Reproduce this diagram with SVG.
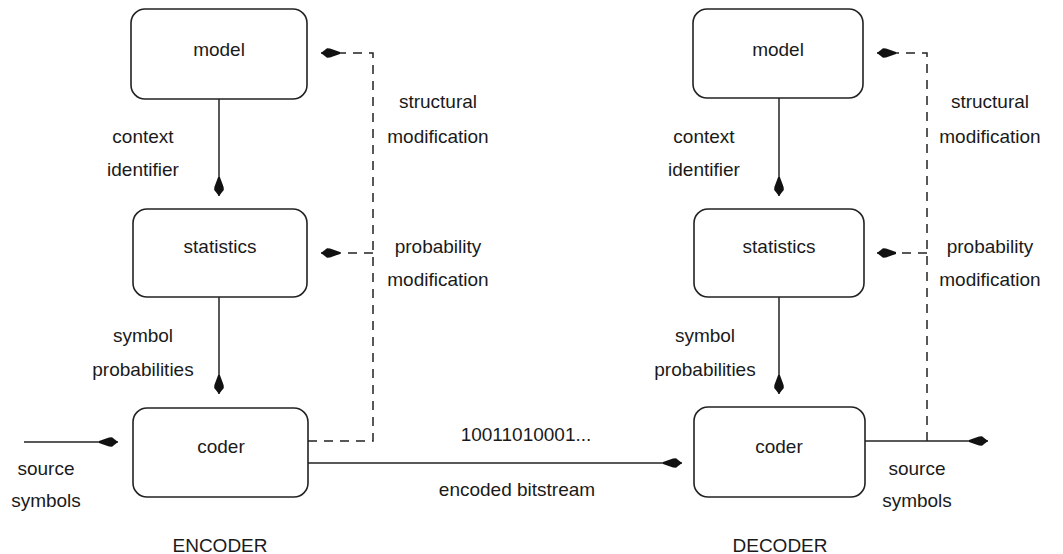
<svg xmlns="http://www.w3.org/2000/svg" width="1063" height="554" viewBox="0 0 1063 554">
<style>
.box{fill:#fff;stroke:#222;stroke-width:1.6}
.ln{fill:none;stroke:#222;stroke-width:1.5}
.ds{fill:none;stroke:#222;stroke-width:1.5;stroke-dasharray:9 7}
text{font-family:"Liberation Sans",Arial,sans-serif;font-size:19px;fill:#1a1a1a;text-anchor:middle}
</style>
<defs>
<marker id="ah" viewBox="-21 -6 22 12" refX="0" refY="0" markerWidth="22" markerHeight="12" markerUnits="userSpaceOnUse" orient="auto">
<path d="M0,0 L-6,-4.8 L-9,-4.6 L-19,-0.9 V0.9 L-9,4.6 L-6,4.8 Z" fill="#111"/>
</marker>
</defs>
<rect width="1063" height="554" fill="#fff"/>
<g id="connectors">
<line class="ln" x1="219" y1="99" x2="219" y2="196" marker-end="url(#ah)"/>
<line class="ln" x1="219" y1="297" x2="219" y2="394" marker-end="url(#ah)"/>
<line class="ln" x1="24" y1="442" x2="118" y2="442" marker-end="url(#ah)"/>
<path class="ds" d="M308,441 H373 V53 H321" marker-end="url(#ah)"/>
<path class="ds" d="M373,253 H321" marker-end="url(#ah)"/>
<line class="ln" x1="308" y1="463" x2="682" y2="463" marker-end="url(#ah)"/>
<line class="ln" x1="779" y1="98" x2="779" y2="196" marker-end="url(#ah)"/>
<line class="ln" x1="779" y1="297" x2="779" y2="394" marker-end="url(#ah)"/>
<line class="ln" x1="865" y1="441" x2="988" y2="441" marker-end="url(#ah)"/>
<path class="ds" d="M927,441 V53 H877" marker-end="url(#ah)"/>
<path class="ds" d="M927,253 H877" marker-end="url(#ah)"/>
</g>
<g id="enc-model"><rect class="box" x="131" y="9" width="176" height="90" rx="14"/><text x="219" y="56">model</text></g>
<g id="enc-statistics"><rect class="box" x="133" y="209" width="174" height="88" rx="14"/><text x="220" y="253">statistics</text></g>
<g id="enc-coder"><rect class="box" x="133" y="408" width="175" height="89" rx="14"/><text x="221" y="453">coder</text></g>
<g id="dec-model"><rect class="box" x="693" y="9" width="170" height="89" rx="14"/><text x="778" y="56">model</text></g>
<g id="dec-statistics"><rect class="box" x="694" y="209" width="170" height="88" rx="14"/><text x="779" y="253">statistics</text></g>
<g id="dec-coder"><rect class="box" x="694" y="407" width="171" height="90" rx="14"/><text x="779" y="453">coder</text></g>
<g id="labels">
<text x="143" y="143">context</text>
<text x="143" y="176">identifier</text>
<text x="143" y="342">symbol</text>
<text x="143" y="376">probabilities</text>
<text x="438" y="108">structural</text>
<text x="438" y="143">modification</text>
<text x="438" y="253">probability</text>
<text x="438" y="286">modification</text>
<text x="46" y="475">source</text>
<text x="46" y="507">symbols</text>
<text x="526" y="441">10011010001...</text>
<text x="517" y="496">encoded bitstream</text>
<text x="220" y="552">ENCODER</text>
<text x="704" y="143">context</text>
<text x="704" y="176">identifier</text>
<text x="705" y="342">symbol</text>
<text x="705" y="376">probabilities</text>
<text x="990" y="108">structural</text>
<text x="990" y="143">modification</text>
<text x="990" y="253">probability</text>
<text x="990" y="286">modification</text>
<text x="917" y="475">source</text>
<text x="917" y="507">symbols</text>
<text x="780" y="552">DECODER</text>
</g>
</svg>
